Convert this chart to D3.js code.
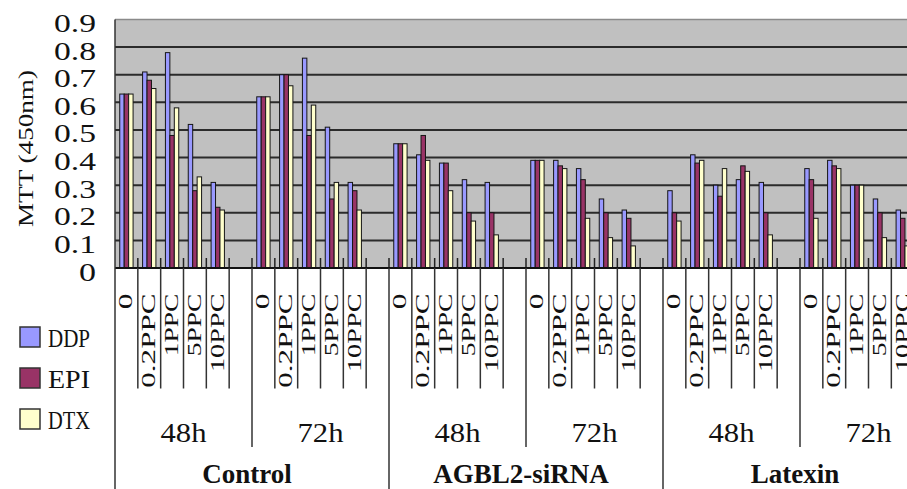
<!DOCTYPE html>
<html>
<head>
<meta charset="utf-8">
<script src="https://cdn.jsdelivr.net/npm/d3@7"></script>
<style>
  html, body { margin: 0; padding: 0; background: #fff; }
  svg { display: block; }
</style>
</head>
<body>
<script>
const treatments = ["Control", "AGBL2-siRNA", "Latexin"];
const times = ["48h", "72h"];
const doses = ["0", "0.2PPC", "1PPC", "5PPC", "10PPC", ""];
const series = ["DDP", "EPI", "DTX"];
const colors = ["#9999FF", "#993366", "#FFFFCC"];
const yTicks = [0, 0.1, 0.2, 0.3, 0.4, 0.5, 0.6, 0.7, 0.8, 0.9];

// Control 48h, Control 72h, AGBL2 48h, AGBL2 72h, Latexin 48h, Latexin 72h
const DDP = [0.63, 0.71, 0.78, 0.52, 0.31,  0.62, 0.70, 0.76, 0.51, 0.31,
             0.45, 0.41, 0.38, 0.32, 0.31,  0.39, 0.39, 0.36, 0.25, 0.21,
             0.28, 0.41, 0.30, 0.32, 0.31,  0.36, 0.39, 0.30, 0.25, 0.21];
const EPI = [0.63, 0.68, 0.48, 0.28, 0.22,  0.62, 0.70, 0.48, 0.25, 0.28,
             0.45, 0.48, 0.38, 0.20, 0.20,  0.39, 0.37, 0.32, 0.20, 0.18,
             0.20, 0.38, 0.26, 0.37, 0.20,  0.32, 0.37, 0.30, 0.20, 0.18];
const DTX = [0.63, 0.65, 0.58, 0.33, 0.21,  0.62, 0.66, 0.59, 0.31, 0.21,
             0.45, 0.39, 0.28, 0.17, 0.12,  0.39, 0.36, 0.18, 0.11, 0.08,
             0.17, 0.39, 0.36, 0.35, 0.12,  0.18, 0.36, 0.30, 0.11, 0.08];

const width = 907, height = 489;
const plotLeft = 115, plotTop = 19.5, plotBottom = 268, plotRight = 937;
const serif = "'Liberation Serif', 'Times New Roman', serif";

const svg = d3.select("body").append("svg")
  .attr("width", width)
  .attr("height", height);

// one slot per dose, inside each time group, inside each treatment
const slots = [];
treatments.forEach((t, ti) => times.forEach((h, hi) => doses.forEach((d, di) => {
  slots.push({ t, ti, h, hi, d, di, key: t + "|" + h + "|" + di });
})));

let k = 0;
const rows = [];
slots.forEach(s => {
  if (s.d === "") return;
  rows.push({ ...s, vals: [DDP[k], EPI[k], DTX[k]] });
  k++;
});

const x0 = d3.scaleBand().domain(slots.map(s => s.key)).range([plotLeft, plotRight]).padding(0);
const x1 = d3.scaleBand().domain(series).range([0, x0.bandwidth()]).paddingInner(0).paddingOuter(1.07);
const y = d3.scaleLinear().domain([0, 0.9]).range([plotBottom, plotTop]);

// plot background
svg.append("rect")
  .attr("x", plotLeft).attr("y", plotTop)
  .attr("width", plotRight - plotLeft).attr("height", plotBottom - plotTop)
  .attr("fill", "#c0c0c0");

// gridlines
svg.append("g").selectAll("line")
  .data(yTicks.filter(v => v > 0))
  .join("line")
  .attr("x1", plotLeft).attr("x2", plotRight)
  .attr("y1", d => y(d)).attr("y2", d => y(d))
  .attr("stroke", d => d >= 0.9 ? "#8a8a8a" : "#2b2b2b")
  .attr("stroke-width", d => d >= 0.9 ? 1.5 : 2);

// bars
const groups = svg.append("g").selectAll("g")
  .data(rows)
  .join("g")
  .attr("transform", d => `translate(${x0(d.key)},0)`);

groups.selectAll("rect")
  .data(d => d.vals.map((v, i) => ({ v, s: series[i], c: colors[i] })))
  .join("rect")
  .attr("x", d => x1(d.s))
  .attr("y", d => y(d.v))
  .attr("width", x1.bandwidth())
  .attr("height", d => plotBottom - y(d.v))
  .attr("fill", d => d.c)
  .attr("stroke", "#151515")
  .attr("stroke-width", 1);

// category tick marks inside plot
const bounds = slots.map(s => x0(s.key)).concat([plotRight]);
svg.append("g").selectAll("line")
  .data(bounds.slice(1))
  .join("line")
  .attr("x1", d => d).attr("x2", d => d)
  .attr("y1", plotBottom - 10).attr("y2", plotBottom)
  .attr("stroke", "#222").attr("stroke-width", 1.5);

// axes lines
svg.append("line")
  .attr("x1", plotLeft).attr("x2", plotRight)
  .attr("y1", plotBottom).attr("y2", plotBottom)
  .attr("stroke", "#111").attr("stroke-width", 2);
svg.append("line")
  .attr("x1", plotLeft).attr("x2", plotLeft)
  .attr("y1", plotTop).attr("y2", height)
  .attr("stroke", "#333").attr("stroke-width", 1.5);

// multi level category separators below the axis
svg.append("g").selectAll("line")
  .data(slots.filter((s, i) => i > 0))
  .join("line")
  .attr("x1", d => x0(d.key)).attr("x2", d => x0(d.key))
  .attr("y1", plotBottom)
  .attr("y2", d => d.di > 0 ? 388.5 : (d.hi > 0 ? 447 : height))
  .attr("stroke", "#333").attr("stroke-width", 1.5);

// rotated dose labels
svg.append("g").selectAll("text")
  .data(slots.filter(s => s.d !== ""))
  .join("text")
  .attr("transform", d => `translate(${x0(d.key) + x0.bandwidth() / 2 + 6}, ${293.5 + d.d.length * 15.7}) rotate(-90)`)
  .attr("font-family", serif)
  .attr("font-size", 19)
  .attr("textLength", d => d.d.length * 15.7)
  .attr("lengthAdjust", "spacingAndGlyphs")
  .attr("fill", "#111")
  .text(d => d.d);

// time labels
const timeGroups = [];
treatments.forEach((t, ti) => times.forEach((h, hi) => {
  const ss = slots.filter(s => s.ti === ti && s.hi === hi);
  timeGroups.push({ h, x: (x0(ss[0].key) + x0(ss[ss.length - 1].key) + x0.bandwidth()) / 2 });
}));
svg.append("g").selectAll("text")
  .data(timeGroups)
  .join("text")
  .attr("x", d => d.x - 23)
  .attr("y", 442)
  .attr("font-family", serif)
  .attr("font-size", 27)
  .attr("textLength", 46)
  .attr("lengthAdjust", "spacingAndGlyphs")
  .attr("fill", "#111")
  .text(d => d.h);

// treatment labels
svg.append("g").selectAll("text")
  .data(treatments.map((t, ti) => {
    const ss = slots.filter(s => s.ti === ti);
    return { t, x: (x0(ss[0].key) + x0(ss[ss.length - 1].key) + x0.bandwidth()) / 2 - 5 };
  }))
  .join("text")
  .attr("x", d => d.x)
  .attr("y", 483)
  .attr("text-anchor", "middle")
  .attr("font-family", serif)
  .attr("font-size", 27)
  .attr("font-weight", "bold")
  .attr("fill", "#111")
  .text(d => d.t);

// y tick labels
svg.append("g").selectAll("text")
  .data(yTicks)
  .join("text")
  .attr("x", d => 96 - (d === 0 ? 17 : 42))
  .attr("y", d => y(d) + 12.5)
  .attr("font-family", serif)
  .attr("font-size", 26)
  .attr("textLength", d => d === 0 ? 17 : 42)
  .attr("lengthAdjust", "spacingAndGlyphs")
  .attr("fill", "#111")
  .text(d => d === 0 ? "0" : d3.format(".1f")(d));

// y title
svg.append("text")
  .attr("transform", "translate(33,227) rotate(-90)")
  .attr("font-family", serif)
  .attr("font-size", 22)
  .attr("textLength", 157)
  .attr("lengthAdjust", "spacingAndGlyphs")
  .attr("fill", "#111")
  .text("MTT (450nm)");

// legend
const legend = svg.append("g").selectAll("g")
  .data(series)
  .join("g")
  .attr("transform", (d, i) => `translate(20,${327 + i * 41})`);
legend.append("rect")
  .attr("width", 20).attr("height", 20)
  .attr("fill", (d, i) => colors[i])
  .attr("stroke", "#333").attr("stroke-width", 1.5);
legend.append("text")
  .attr("x", 28).attr("y", 20)
  .attr("font-family", serif)
  .attr("font-size", 26)
  .attr("textLength", 42)
  .attr("lengthAdjust", "spacingAndGlyphs")
  .attr("fill", "#111")
  .text(d => d);
</script>
</body>
</html>
